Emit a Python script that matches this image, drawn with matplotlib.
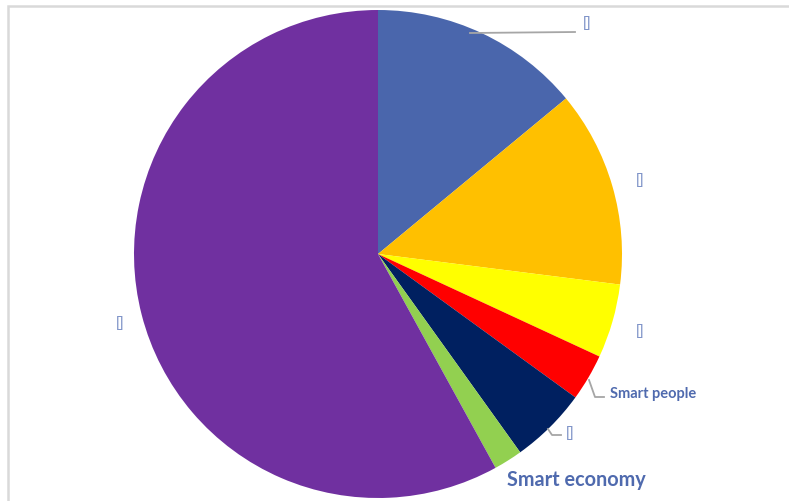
import matplotlib.pyplot as plt
from matplotlib.patches import Rectangle

# slice shares, clockwise from 12 o'clock
shares = [14.0, 13.0, 4.9, 3.1, 5.1, 1.9, 58.0]
colors = ['#4A66AC', '#FFC000', '#FFFF00', '#FF0000', '#002060', '#92D050', '#7030A0']
labels = ['[]', '[]', '[]', 'Smart people', '[]', 'Smart economy', '[]']

W, H = 789, 502
fig = plt.figure(figsize=(W / 100, H / 100), dpi=100)
ax = fig.add_axes([0, 0, 1, 1])

# chart frame (light grey, top and left edges visible)
fig.patches.append(Rectangle((8 / W, -0.1), 1.2, (H - 7) / H + 0.1, transform=fig.transFigure,
                             fill=False, edgecolor='#D9D9D9', linewidth=1.8))

cx, cy, r = 378, H - 255, 244
ax.pie(shares, colors=colors, startangle=90, counterclock=False,
       center=(cx, cy), radius=r, frame=True,
       wedgeprops=dict(linewidth=0))
ax.set_xlim(0, W)
ax.set_ylim(0, H)
ax.axis('off')

txt_col = '#4F6AAE'
grey = '#A6A6A6'

# label positions (pixel coords from top-left) and leader lines
label_pos = [(583, 23), (636, 180), (636, 331), (610, 394), (566, 433), (507, 480), (116, 323)]
leaders = {
    0: [(470, 34), (575, 33)],
    3: [(589, 381), (595, 398), (604, 398)],
    4: [(548, 430), (552, 436), (561, 436)],
}

for i, (lab, (px, py)) in enumerate(zip(labels, label_pos)):
    if lab == 'Smart economy':
        ax.text(px, H - py, lab, fontsize=14.3, fontweight='bold', color=txt_col,
                family='Lato', ha='left', va='center')
    elif lab == 'Smart people':
        ax.text(px, H - py, lab, fontsize=10.5, fontweight='bold', color=txt_col,
                family='Lato', ha='left', va='center')
    else:
        ax.text(px, H - py, lab, fontsize=11, color='#7F93C8',
                family='Liberation Sans', ha='left', va='center')
    if i in leaders:
        xs = [p[0] for p in leaders[i]]
        ys = [H - p[1] for p in leaders[i]]
        ax.plot(xs, ys, color=grey, linewidth=1.3)

fig.savefig('out.png', dpi=100)
